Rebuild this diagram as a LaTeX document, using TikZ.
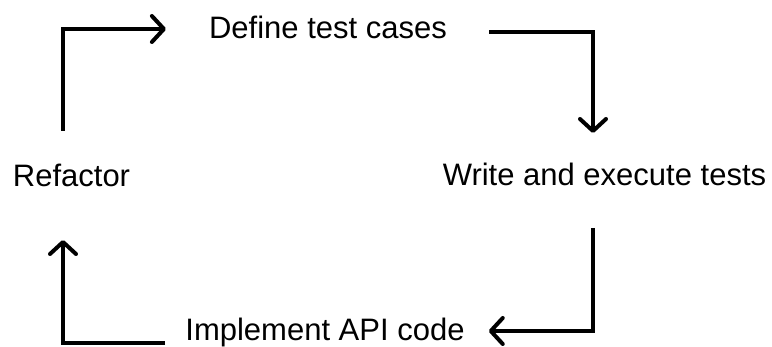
\documentclass[tikz,border=0pt]{standalone}
\usepackage{fontspec}
\setmainfont{Liberation Sans}
\usetikzlibrary{arrows.meta}
\tikzset{
  label/.style={anchor=base, inner sep=0pt, font=\fontsize{31}{37}\selectfont},
  flow/.style={line width=4pt, -{Straight Barb[length=12pt,width=26pt,round]}}
}
\begin{document}
\begin{tikzpicture}[x=1pt,y=-1pt]
  \useasboundingbox (0,0) rectangle (772,347);
  \node[label] (def) at (328,39) {Define test cases};
  \node[label] (wri) at (604.5,186) {Write and execute tests};
  \node[label] (imp) at (325,341) {Implement API code};
  \node[label] (ref) at (71.5,187) {Refactor};
  % cycle of steps
  \draw[flow] ([xshift=-8.5pt,yshift=56pt]ref.base) |- ([xshift=-43pt,yshift=10pt]def.base west);
  \draw[flow] ([xshift=42pt,yshift=7pt]def.base east) -| ([xshift=-11.5pt,yshift=53pt]wri.base);
  \draw[flow] ([xshift=-11.5pt,yshift=-42pt]wri.base) |- ([xshift=24pt,yshift=10pt]imp.base east);
  \draw[flow] ([xshift=-20pt,yshift=-2pt]imp.base west) -| ([xshift=-8.5pt,yshift=-53pt]ref.base);
\end{tikzpicture}
\end{document}
